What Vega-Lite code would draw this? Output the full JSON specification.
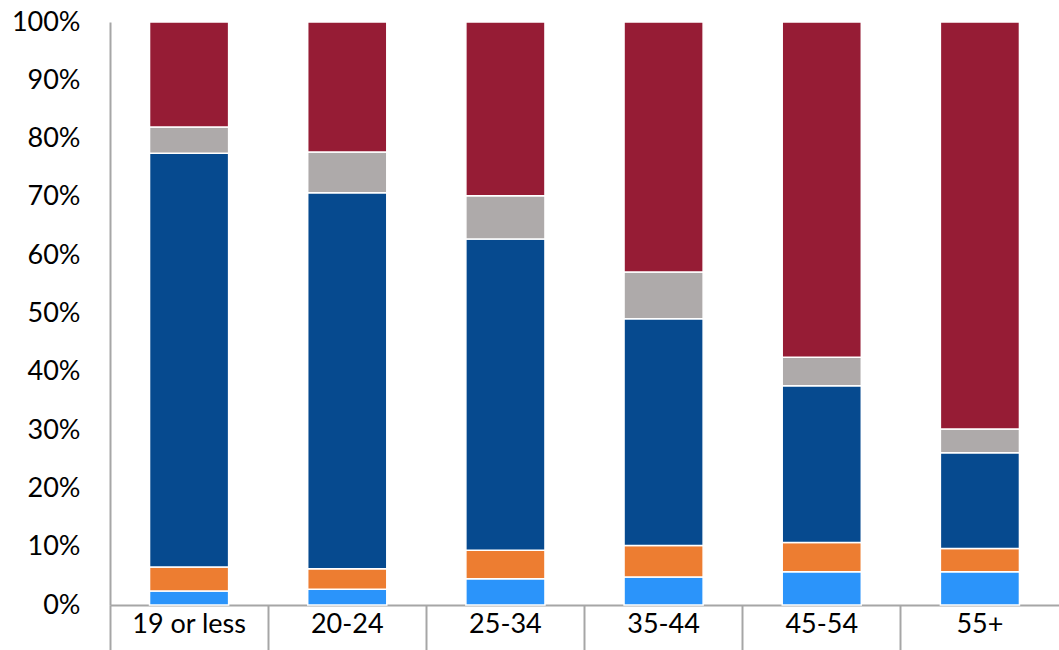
{
  "$schema": "https://vega.github.io/schema/vega-lite/v6.json",
  "width": 949,
  "height": 583,
  "autosize": "none",
  "padding": {"left": 110, "top": 22, "right": 0, "bottom": 45},
  "background": "white",
  "config": {"view": {"stroke": null}, "font": "Lato"},
  "data": {"values": [
    {"age": "19 or less", "s": "A", "o": 1, "v": 2.4},
    {"age": "19 or less", "s": "B", "o": 2, "v": 4.1},
    {"age": "19 or less", "s": "C", "o": 3, "v": 71.0},
    {"age": "19 or less", "s": "D", "o": 4, "v": 4.5},
    {"age": "19 or less", "s": "E", "o": 5, "v": 18.0},
    {"age": "20-24", "s": "A", "o": 1, "v": 2.7},
    {"age": "20-24", "s": "B", "o": 2, "v": 3.5},
    {"age": "20-24", "s": "C", "o": 3, "v": 64.5},
    {"age": "20-24", "s": "D", "o": 4, "v": 7.0},
    {"age": "20-24", "s": "E", "o": 5, "v": 22.3},
    {"age": "25-34", "s": "A", "o": 1, "v": 4.5},
    {"age": "25-34", "s": "B", "o": 2, "v": 4.9},
    {"age": "25-34", "s": "C", "o": 3, "v": 53.4},
    {"age": "25-34", "s": "D", "o": 4, "v": 7.4},
    {"age": "25-34", "s": "E", "o": 5, "v": 29.8},
    {"age": "35-44", "s": "A", "o": 1, "v": 4.8},
    {"age": "35-44", "s": "B", "o": 2, "v": 5.4},
    {"age": "35-44", "s": "C", "o": 3, "v": 38.9},
    {"age": "35-44", "s": "D", "o": 4, "v": 8.0},
    {"age": "35-44", "s": "E", "o": 5, "v": 42.9},
    {"age": "45-54", "s": "A", "o": 1, "v": 5.7},
    {"age": "45-54", "s": "B", "o": 2, "v": 5.0},
    {"age": "45-54", "s": "C", "o": 3, "v": 26.9},
    {"age": "45-54", "s": "D", "o": 4, "v": 4.9},
    {"age": "45-54", "s": "E", "o": 5, "v": 57.5},
    {"age": "55+", "s": "A", "o": 1, "v": 5.7},
    {"age": "55+", "s": "B", "o": 2, "v": 4.0},
    {"age": "55+", "s": "C", "o": 3, "v": 16.4},
    {"age": "55+", "s": "D", "o": 4, "v": 4.1},
    {"age": "55+", "s": "E", "o": 5, "v": 69.8}
  ]},
  "mark": {"type": "bar", "stroke": "white", "strokeWidth": 1.5},
  "encoding": {
    "x": {
      "field": "age", "type": "nominal", "sort": null,
      "scale": {"paddingInner": 0.5, "paddingOuter": 0.25},
      "axis": {
        "title": null, "labelAngle": 0, "labelFontSize": 27, "labelColor": "black",
        "domainColor": "#a6a6a6", "domainWidth": 2,
        "ticks": true, "bandPosition": -0.5, "tickSize": 45, "tickColor": "#a6a6a6", "tickWidth": 2,
        "labelPadding": -39, "labelBaseline": "top"
      }
    },
    "y": {
      "field": "v", "type": "quantitative", "stack": "normalize",
      "scale": {"domain": [0, 1]},
      "axis": {
        "title": null, "format": ".0%", "values": [0, 0.1, 0.2, 0.3, 0.4, 0.5, 0.6, 0.7, 0.8, 0.9, 1],
        "grid": false, "ticks": false, "labelFontSize": 27, "labelColor": "black",
        "labelPadding": 30, "domainColor": "#a6a6a6", "domainWidth": 2
      }
    },
    "color": {
      "field": "s", "type": "nominal", "legend": null,
      "scale": {"domain": ["A", "B", "C", "D", "E"], "range": ["#2B94FA", "#ED7D31", "#064A8F", "#AEAAAA", "#961C35"]}
    },
    "order": {"field": "o", "type": "quantitative"}
  }
}
